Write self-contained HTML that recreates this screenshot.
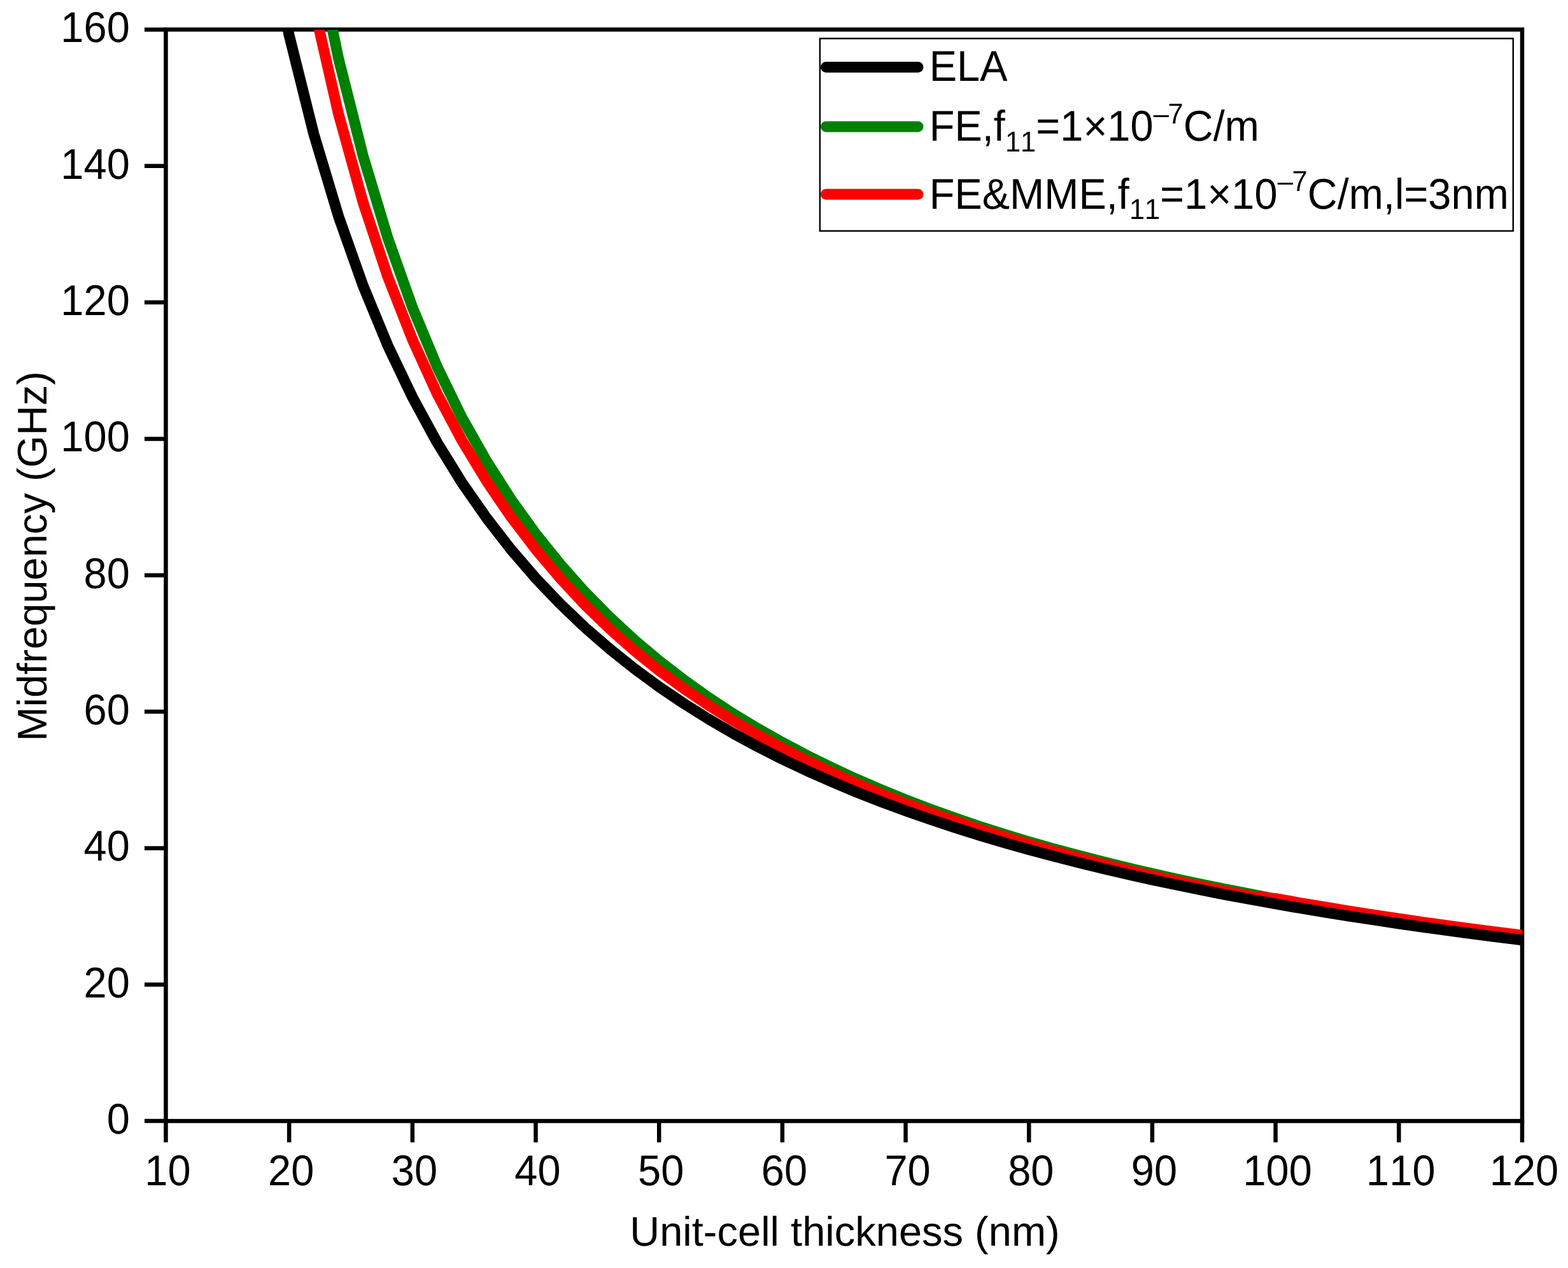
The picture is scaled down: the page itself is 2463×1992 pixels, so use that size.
<!DOCTYPE html>
<html lang="en"><head><meta charset="utf-8"><title>Midfrequency vs unit-cell thickness</title>
<style>
html,body{margin:0;padding:0;background:#fff;}
body{width:2463px;height:1992px;overflow:hidden;}
svg{display:block;}
text{font-family:"Liberation Sans",sans-serif;fill:#000;font-kerning:none;font-variant-ligatures:none;text-rendering:geometricPrecision;}
.t{font-size:65px;}
.s{font-size:43.5px;}
</style></head><body>
<svg width="2463" height="1992" viewBox="0 0 2463 1992">
<rect width="2463" height="1992" fill="#fff"/>
<defs><clipPath id="c"><rect x="260.5" y="46.8" width="2131.1" height="1714.7"/></clipPath></defs>
<g stroke="#000" stroke-width="6.5" fill="none" stroke-linecap="butt">
<rect x="260.50" y="46.40" width="2130.50" height="1714.70"/>
<line x1="227.00" y1="1761.10" x2="260.50" y2="1761.10"/>
<line x1="227.00" y1="1546.76" x2="260.50" y2="1546.76"/>
<line x1="227.00" y1="1332.42" x2="260.50" y2="1332.42"/>
<line x1="227.00" y1="1118.09" x2="260.50" y2="1118.09"/>
<line x1="227.00" y1="903.75" x2="260.50" y2="903.75"/>
<line x1="227.00" y1="689.41" x2="260.50" y2="689.41"/>
<line x1="227.00" y1="475.08" x2="260.50" y2="475.08"/>
<line x1="227.00" y1="260.74" x2="260.50" y2="260.74"/>
<line x1="227.00" y1="46.40" x2="260.50" y2="46.40"/>
<line x1="260.50" y1="1761.10" x2="260.50" y2="1794.60"/>
<line x1="454.18" y1="1761.10" x2="454.18" y2="1794.60"/>
<line x1="647.86" y1="1761.10" x2="647.86" y2="1794.60"/>
<line x1="841.55" y1="1761.10" x2="841.55" y2="1794.60"/>
<line x1="1035.23" y1="1761.10" x2="1035.23" y2="1794.60"/>
<line x1="1228.91" y1="1761.10" x2="1228.91" y2="1794.60"/>
<line x1="1422.59" y1="1761.10" x2="1422.59" y2="1794.60"/>
<line x1="1616.27" y1="1761.10" x2="1616.27" y2="1794.60"/>
<line x1="1809.95" y1="1761.10" x2="1809.95" y2="1794.60"/>
<line x1="2003.64" y1="1761.10" x2="2003.64" y2="1794.60"/>
<line x1="2197.32" y1="1761.10" x2="2197.32" y2="1794.60"/>
<line x1="2391.00" y1="1761.10" x2="2391.00" y2="1794.60"/>
</g>
<g clip-path="url(#c)" fill="none" stroke-width="17" stroke-linejoin="round">
<path d="M376.7,-1040.1 L415.4,-635.5 L454.2,-331.9 L492.9,-96.2 L531.7,91.9 L570.4,245.4 L609.1,373.8 L647.9,483.0 L686.6,576.0 L725.3,655.5 L764.1,724.1 L802.8,784.6 L841.5,838.5 L880.3,886.7 L919.0,930.3 L957.8,969.6 L996.5,1005.4 L1035.2,1038.1 L1074.0,1068.0 L1112.7,1095.6 L1151.4,1121.0 L1190.2,1144.5 L1228.9,1166.3 L1267.6,1186.8 L1306.4,1205.9 L1345.1,1223.9 L1383.9,1240.6 L1422.6,1256.3 L1461.3,1271.1 L1500.1,1285.1 L1538.8,1298.2 L1577.5,1310.6 L1616.3,1322.4 L1655.0,1333.4 L1693.7,1343.8 L1732.5,1353.8 L1771.2,1363.3 L1810.0,1372.3 L1848.7,1381.0 L1887.4,1389.3 L1926.2,1397.1 L1964.9,1404.5 L2003.6,1412.3 L2042.4,1419.1 L2081.1,1425.7 L2119.8,1432.0 L2158.6,1438.0 L2197.3,1443.8 L2236.1,1449.4 L2274.8,1454.8 L2313.5,1460.1 L2352.3,1465.1 L2391.0,1470.0" stroke="#008000"/>
<path d="M376.7,-826.8 L415.4,-470.8 L454.2,-201.4 L492.9,9.5 L531.7,179.0 L570.4,318.3 L609.1,434.7 L647.9,533.5 L686.6,618.4 L725.3,691.3 L764.1,755.4 L802.8,812.2 L841.5,862.9 L880.3,908.8 L919.0,950.4 L957.8,988.0 L996.5,1022.2 L1035.2,1053.4 L1074.0,1081.7 L1112.7,1107.8 L1151.4,1132.0 L1190.2,1154.5 L1228.9,1175.4 L1267.6,1195.0 L1306.4,1213.5 L1345.1,1230.8 L1383.9,1247.1 L1422.6,1262.2 L1461.3,1276.5 L1500.1,1289.9 L1538.8,1302.7 L1577.5,1314.7 L1616.3,1326.2 L1655.0,1337.1 L1693.7,1347.5 L1732.5,1357.4 L1771.2,1366.8 L1810.0,1375.8 L1848.7,1384.3 L1887.4,1392.5 L1926.2,1400.4 L1964.9,1407.9 L2003.6,1411.6 L2042.4,1418.5 L2081.1,1425.0 L2119.8,1431.3 L2158.6,1437.4 L2197.3,1443.2 L2236.1,1448.8 L2274.8,1454.2 L2313.5,1459.4 L2352.3,1464.5 L2391.0,1469.3" stroke="#ff0000"/>
<path d="M376.7,-370.9 L415.4,-134.0 L454.2,55.5 L492.9,210.6 L531.7,339.8 L570.4,449.1 L609.1,542.8 L647.9,624.0 L686.6,695.1 L725.3,757.8 L764.1,813.5 L802.8,863.4 L841.5,908.3 L880.3,948.9 L919.0,985.8 L957.8,1019.5 L996.5,1050.4 L1035.2,1078.9 L1074.0,1105.1 L1112.7,1129.4 L1151.4,1152.0 L1190.2,1173.0 L1228.9,1192.6 L1267.6,1210.9 L1306.4,1228.1 L1345.1,1244.3 L1383.9,1259.5 L1422.6,1273.8 L1461.3,1287.3 L1500.1,1300.1 L1538.8,1312.3 L1577.5,1323.8 L1616.3,1334.7 L1655.0,1345.1 L1693.7,1355.0 L1732.5,1364.5 L1771.2,1373.5 L1810.0,1382.1 L1848.7,1390.3 L1887.4,1398.2 L1926.2,1405.8 L1964.9,1413.0 L2003.6,1420.0 L2042.4,1426.7 L2081.1,1433.1 L2119.8,1439.3 L2158.6,1445.2 L2197.3,1451.0 L2236.1,1456.5 L2274.8,1461.9 L2313.5,1467.0 L2352.3,1472.0 L2391.0,1476.8" stroke="#000"/>
</g>
<g class="t">
<text transform="translate(203.8,1781.1) scale(1,1.04)" text-anchor="end">0</text>
<text transform="translate(203.8,1566.8) scale(1,1.04)" text-anchor="end">20</text>
<text transform="translate(203.8,1352.4) scale(1,1.04)" text-anchor="end">40</text>
<text transform="translate(203.8,1138.1) scale(1,1.04)" text-anchor="end">60</text>
<text transform="translate(203.8,923.7) scale(1,1.04)" text-anchor="end">80</text>
<text transform="translate(203.8,709.4) scale(1,1.04)" text-anchor="end">100</text>
<text transform="translate(203.8,495.1) scale(1,1.04)" text-anchor="end">120</text>
<text transform="translate(203.8,280.7) scale(1,1.04)" text-anchor="end">140</text>
<text transform="translate(203.8,66.4) scale(1,1.04)" text-anchor="end">160</text>
<text transform="translate(263.5,1862) scale(1,1.04)" text-anchor="middle">10</text>
<text transform="translate(457.2,1862) scale(1,1.04)" text-anchor="middle">20</text>
<text transform="translate(650.9,1862) scale(1,1.04)" text-anchor="middle">30</text>
<text transform="translate(844.5,1862) scale(1,1.04)" text-anchor="middle">40</text>
<text transform="translate(1038.2,1862) scale(1,1.04)" text-anchor="middle">50</text>
<text transform="translate(1231.9,1862) scale(1,1.04)" text-anchor="middle">60</text>
<text transform="translate(1425.6,1862) scale(1,1.04)" text-anchor="middle">70</text>
<text transform="translate(1619.3,1862) scale(1,1.04)" text-anchor="middle">80</text>
<text transform="translate(1813.0,1862) scale(1,1.04)" text-anchor="middle">90</text>
<text transform="translate(2006.6,1862) scale(1,1.04)" text-anchor="middle">100</text>
<text transform="translate(2200.3,1862) scale(1,1.04)" text-anchor="middle">110</text>
<text transform="translate(2394.0,1862) scale(1,1.04)" text-anchor="middle">120</text>
<text x="1327" y="1957" text-anchor="middle">Unit-cell thickness (nm)</text>
<text transform="translate(73,873.8) rotate(-90)" text-anchor="middle">Midfrequency (GHz)</text>
</g>
<rect x="1287.9" y="60.5" width="1088.9" height="302.3" fill="#fff" stroke="#000" stroke-width="2.4"/>
<g stroke-width="17" stroke-linecap="round" fill="none">
<line x1="1297.5" y1="105.5" x2="1442" y2="105.5" stroke="#000"/>
<line x1="1297.5" y1="198.9" x2="1442" y2="198.9" stroke="#008000"/>
<line x1="1297.5" y1="305.3" x2="1442" y2="305.3" stroke="#ff0000"/>
</g>
<g class="t">
<text transform="translate(1459.7,127.2) scale(1,1.04)">ELA</text>
<text transform="translate(1459.7,221.3) scale(1,1.04)">FE,f<tspan class="s" dy="15.77">11</tspan><tspan dy="-15.77">=1×10</tspan><tspan class="s" dy="-26.44">–<tspan dx="-1.3">7</tspan></tspan><tspan dy="26.44">C/m</tspan></text>
<text transform="translate(1459.7,327.5) scale(1,1.04)">FE&amp;MME,f<tspan class="s" dy="15.77">11</tspan><tspan dy="-15.77">=1×10</tspan><tspan class="s" dy="-26.44">–<tspan dx="-1.3">7</tspan></tspan><tspan dy="26.44">C/m,l=3nm</tspan></text>
</g>
</svg></body></html>
